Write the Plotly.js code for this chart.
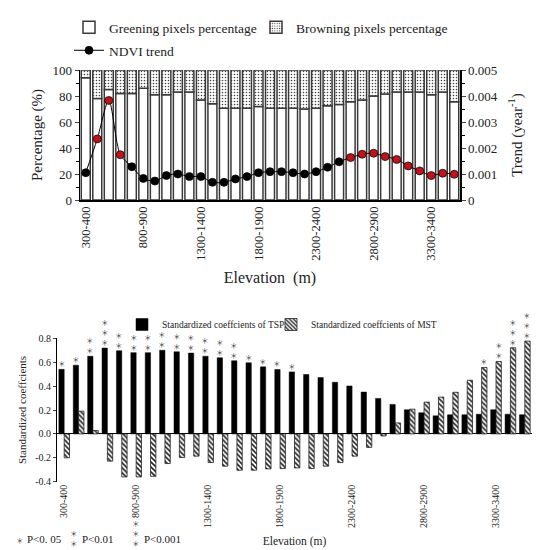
<!DOCTYPE html>
<html><head><meta charset="utf-8">
<script src="https://cdn.plot.ly/plotly-3.0.1.min.js"></script>
<style>html,body{margin:0;padding:0;background:#fff}#chart{width:550px;height:550px}</style>
</head><body><div id="chart"></div>
<script>
const elevation = ["300-400","400-500","500-600","600-700","700-800","800-900","900-1000","1000-1100","1100-1200","1200-1300","1300-1400","1400-1500","1500-1600","1600-1700","1700-1800","1800-1900","1900-2000","2000-2100","2100-2200","2200-2300","2300-2400","2400-2500","2500-2600","2600-2700","2700-2800","2800-2900","2900-3000","3000-3100","3100-3200","3200-3300","3300-3400","3400-3500","3500-3600"];
const tickLabels = ["300-400","800-900","1300-1400","1800-1900","2300-2400","2800-2900","3300-3400"];
const greening = [94,78,85,82,82,86,81,81,83,83,77,74,70.5,70.5,70.5,72,70.5,70.5,70.5,70,70.5,72.5,73.5,75.5,77,80,81.5,83,83,83,81,83,75.5];
const browning = [6,22,15,18,18,14,19,19,17,17,23,26,29.5,29.5,29.5,28,29.5,29.5,29.5,30,29.5,27.5,26.5,24.5,23,20,18.5,17,17,17,19,17,24.5];
const ndviTrend = [0.00105,0.00235,0.00383,0.00174,0.00128,0.00083,0.00073,0.00094,0.00100,0.00090,0.00090,0.00068,0.00068,0.00081,0.00090,0.00105,0.00109,0.00109,0.00105,0.00100,0.00109,0.00126,0.00147,0.00163,0.00176,0.00180,0.00167,0.00156,0.00131,0.00112,0.00094,0.00103,0.00099];
const ndviSignificant = [0,1,1,1,0,0,0,0,0,0,0,0,0,0,0,0,0,0,0,0,0,0,0,1,1,1,1,1,1,1,1,1,1];
const tspCoef = [0.54,0.575,0.65,0.718,0.696,0.68,0.68,0.70,0.687,0.676,0.65,0.637,0.612,0.595,0.561,0.539,0.519,0.497,0.471,0.432,0.401,0.35,0.297,0.247,0.202,0.177,0.151,0.16,0.16,0.165,0.202,0.165,0.16];
const mstCoef = [-0.2,0.19,0.028,-0.228,-0.36,-0.36,-0.355,-0.248,-0.197,-0.186,-0.24,-0.27,-0.304,-0.304,-0.293,-0.29,-0.285,-0.29,-0.27,-0.24,-0.186,-0.113,-0.017,0.092,0.207,0.266,0.308,0.348,0.449,0.556,0.606,0.721,0.777];
const tspStars = [1,1,2,3,2,2,2,2,2,2,2,2,2,1,1,1,1,0,0,0,0,0,0,0,0,0,0,0,0,0,0,0,0];
const mstStars = [0,0,0,0,0,0,0,0,0,0,0,0,0,0,0,0,0,0,0,0,0,0,0,0,0,0,0,0,0,1,2,3,3];
const coefTicks = [-0.4,-0.2,0,0.2,0.4,0.6,0.8];
const coefTickText = ["-0.4","-0.2","0.0","0.2","0.4","0.6","0.8"];

const SERIF = "Liberation Serif, 'Times New Roman', serif";
const W = 550, H = 550;
const px = v => v / W, py = v => 1 - v / H;
const starText = n => Array(n).fill('\uFF0A').join('<br>');
const STAR_SIZE = 7.5, STAR_LH = STAR_SIZE * 1.3;

const traces = [
  {type:'bar', name:'Greening pixels percentage', x:elevation, y:greening, xaxis:'x', yaxis:'y',
   width:0.78, offset:-0.39, legend:'legend',
   marker:{color:'white', line:{color:'#3a3a3a', width:1.5}}},
  {type:'bar', name:'Browning pixels percentage', x:elevation, y:browning, base:greening, xaxis:'x', yaxis:'y',
   width:0.78, offset:-0.39, legend:'legend4',
   marker:{color:'white', line:{color:'#3a3a3a', width:1.5},
     pattern:{shape:'.', fgcolor:'#444', bgcolor:'white', size:3, solidity:0.22}}},
  {type:'scatter', mode:'lines+markers', name:'NDVI trend', x:elevation, y:ndviTrend, xaxis:'x', yaxis:'y2',
   legend:'legend2', line:{color:'black', width:1, shape:'spline', smoothing:0.8},
   marker:{size:8, color:ndviSignificant.map(s => s ? '#c0141c' : 'black'), line:{color:'black', width:0.7}}},
  {type:'bar', name:'Standardized coeffcients of TSP', x:elevation, y:tspCoef, xaxis:'x2', yaxis:'y3',
   width:0.37, offset:-0.37, legend:'legend3', marker:{color:'black', line:{color:'black', width:0.5}}},
  {type:'bar', name:'Standardized coeffcients of MST', x:elevation, y:mstCoef, xaxis:'x2', yaxis:'y3',
   width:0.37, offset:0, legend:'legend5',
   marker:{color:'white', line:{color:'#222', width:0.8},
     pattern:{shape:'\\', fgcolor:'#222', bgcolor:'white', size:3.5, solidity:0.45}}}
];

const annotations = [];
const starFont = {family:'Noto Sans CJK SC', size:STAR_SIZE, color:'#333'};
const barW = (532 - 57) / elevation.length;
function addStars(vals, counts, shift) {
  counts.forEach((n, i) => {
    if (!n) return;
    annotations.push({xref:'x2', yref:'y3', x:elevation[i], y:vals[i], text:starText(n), showarrow:false,
      xanchor:'center', yanchor:'bottom', xshift:shift, yshift:-1, font:starFont, borderpad:0});
  });
}
addStars(tspCoef, tspStars, -0.185*barW);
addStars(mstCoef, mstStars, 0.185*barW);
// footnote
const foot = [{n:1, x:20, label:'P<0. 05', lx:26}, {n:2, x:74, label:'P<0.01', lx:81}, {n:3, x:136, label:'P<0.001', lx:143}];
foot.forEach(f => {
  const cy = Math.min(540, 548 - f.n * STAR_LH / 2);
  annotations.push({xref:'paper', yref:'paper', x:px(f.x), y:py(cy), text:starText(f.n), showarrow:false,
    xanchor:'center', yanchor:'middle', font:starFont, borderpad:0});
  annotations.push({xref:'paper', yref:'paper', x:px(f.lx), y:py(539), text:f.label, showarrow:false,
    xanchor:'left', yanchor:'middle', font:{family:SERIF, size:11, color:'#222'}, borderpad:0});
});

const legBase = {xanchor:'left', yanchor:'top', orientation:'h', bgcolor:'rgba(0,0,0,0)', itemwidth:30};
const topLegFont = {family:SERIF, size:13.5, color:'#222'};
const botLegFont = {family:SERIF, size:9.5, color:'#222'};

const layout = {
  width:W, height:H, margin:{l:0, r:0, t:0, b:0}, paper_bgcolor:'white', plot_bgcolor:'white',
  font:{family:SERIF, color:'#222'}, barmode:'overlay', showlegend:true,
  xaxis:{domain:[px(80), px(460)], anchor:'y', type:'category', range:[-0.5, elevation.length-0.5],
    tickmode:'array', tickvals:tickLabels, ticktext:tickLabels, tickangle:-90, ticks:'', showline:true,
    linecolor:'black', linewidth:1.5, showgrid:false, tickfont:{family:SERIF, size:12.5, color:'#222'},
    title:{text:'Elevation  (m)', font:{family:SERIF, size:16, color:'#222'}, standoff:12}},
  yaxis:{domain:[py(200), py(70)], anchor:'x', range:[0,100], dtick:20, ticks:'outside', ticklen:4,
    showline:true, linecolor:'black', linewidth:1.5, showgrid:false, zeroline:false,
    minor:{dtick:10, ticks:'outside', ticklen:3, tickcolor:'black'},
    tickfont:{family:SERIF, size:13, color:'#222'},
    title:{text:'Percentage (%)', font:{family:SERIF, size:15, color:'#222'}, standoff:6}},
  yaxis2:{overlaying:'y', side:'right', anchor:'x', range:[0,0.005], dtick:0.001, ticks:'outside', ticklen:4,
    showline:true, linecolor:'black', linewidth:1.5, showgrid:false, zeroline:false,
    minor:{dtick:0.0005, ticks:'outside', ticklen:3, tickcolor:'black'},
    tickfont:{family:SERIF, size:13, color:'#222'},
    title:{text:'Trend (year<sup>-1</sup>)', font:{family:SERIF, size:15, color:'#222'}, standoff:14}},
  xaxis2:{domain:[px(57), px(532)], anchor:'y3', type:'category', range:[-0.5, elevation.length-0.5],
    tickmode:'array', tickvals:tickLabels, ticktext:tickLabels, tickangle:-90, ticks:'', showline:false,
    showgrid:false, tickfont:{family:SERIF, size:10, color:'#222'},
    title:{text:'Elevation (m)', font:{family:SERIF, size:11.5, color:'#222'}, standoff:9}},
  yaxis3:{domain:[py(481.7), py(338.3)], anchor:'x2', range:[-0.4,0.8], tickmode:'array',
    tickvals:coefTicks, ticktext:coefTickText, ticks:'outside', ticklen:3, showline:true, linecolor:'black',
    linewidth:1, showgrid:false, zeroline:true, zerolinecolor:'black', zerolinewidth:1,
    tickfont:{family:SERIF, size:10, color:'#222'},
    title:{text:'Standardized coeffcients', font:{family:SERIF, size:11, color:'#222'}, standoff:6}},
  legend:Object.assign({x:px(69), y:py(12), font:topLegFont}, legBase),
  legend4:Object.assign({x:px(256), y:py(12), font:topLegFont}, legBase),
  legend2:Object.assign({x:px(69), y:py(35), font:topLegFont}, legBase),
  legend3:Object.assign({x:px(122), y:py(310), font:botLegFont}, legBase),
  legend5:Object.assign({x:px(271), y:py(310), font:botLegFont}, legBase),
  annotations:annotations
};

Plotly.newPlot('chart', traces, layout, {displayModeBar:false, staticPlot:true});
</script></body></html>
